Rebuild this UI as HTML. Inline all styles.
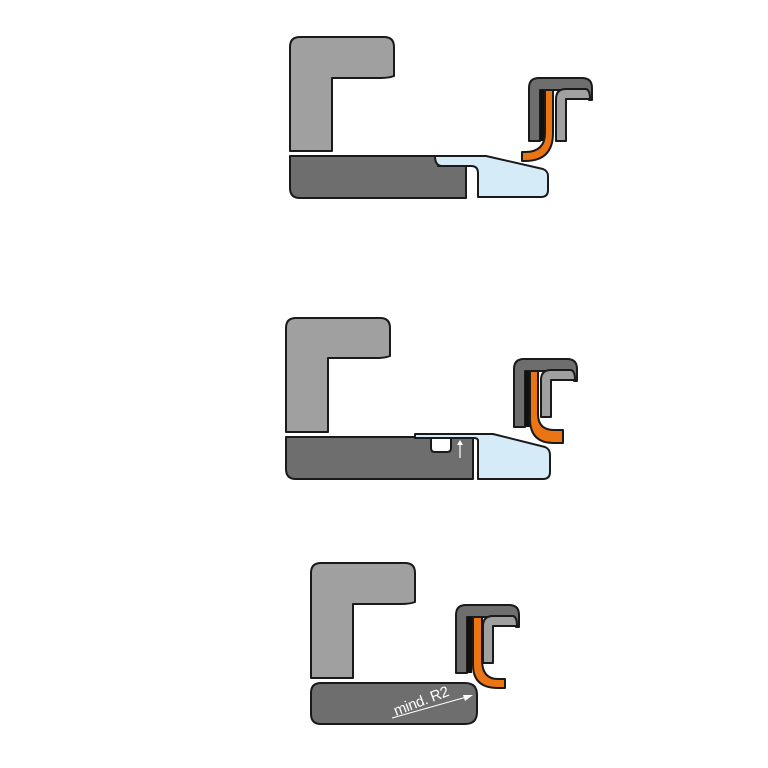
<!DOCTYPE html>
<html><head><meta charset="utf-8"><style>html,body{margin:0;padding:0;background:#fff}svg{display:block}</style></head>
<body>
<svg width="768" height="768" viewBox="0 0 768 768" xmlns="http://www.w3.org/2000/svg" stroke="#1a1a1a" stroke-width="2" stroke-linejoin="round">
<defs>
  <g id="capL">
    <path d="M0,63 V10 Q0,0 10,0 H53 Q63,0 63,10 V22 H60 Q59,13 50,12 H11 V63 Z" fill="#6e6e6e"/>
    <rect x="11" y="12" width="5" height="51" fill="#111" stroke="none"/>
    <path d="M27,63 V21 Q27,11 37,11 H57 Q61,12 61,21 H37 V63 Z" fill="#a0a0a0"/>
  </g>
  <g id="capR">
    <path d="M0,68 V10 Q0,0 10,0 H53 Q63,0 63,10 V22 H60 Q59,13 50,12 H11 V68 Z" fill="#6e6e6e"/>
    <rect x="11" y="12" width="5" height="56" fill="#111" stroke="none"/>
    <path d="M27,58 V21 Q27,11 37,11 H57 Q61,12 61,21 H37 V58 Z" fill="#a0a0a0"/>
  </g>
</defs>

<!-- Diagram 1 -->
<path d="M290,151 V47 Q290,37 300,37 H384 Q394,37 394,47 V76 Q389,78 380,78 H332 V151 Z" fill="#a0a0a0"/>
<path d="M466,198 H300 Q290,198 290,188 V156 H438 V166 H466 Z" fill="#6e6e6e"/>
<path d="M435,156 H486 L543,169 Q548,171 548,176 V190 Q548,197 541,197 H478 V173 Q478,166 471,166 H441 Q435,165 435,156 Z" fill="#d6ebf8"/>
<g transform="translate(529,78)">
  <use href="#capL"/>
  <path d="M16,12 H24 V55 Q24,83 -4,83 H-7 V74 H-4 Q16,74 16,55 Z" fill="#ec7513"/>
</g>

<!-- Diagram 2 -->
<path d="M286,432 V328 Q286,318 296,318 H380 Q390,318 390,328 V356 Q385,358 376,358 H328 V432 Z" fill="#a0a0a0"/>
<path d="M473,479 H296 Q286,479 286,469 V437 H473 Z" fill="#6e6e6e"/>
<path d="M431,438 H451 V448 Q451,452 447,452 H435 Q431,452 431,448 Z" fill="#fff"/>
<line x1="460" y1="458" x2="460" y2="442" stroke="#fff" stroke-width="1.2"/>
<path d="M457,445 L460,440 L463,445 Z" fill="#fff" stroke="none"/>
<path d="M415,434 H493 L545,447 Q550,449 550,455 V472 Q550,479 543,479 H478 V441 Q478,438 474,438 H415 Z" fill="#d6ebf8"/>
<g transform="translate(514,359)">
  <use href="#capR"/>
  <path d="M16,12 H24 V55 Q24,71 40,71 H49 V84 H40 Q16,84 16,60 Z" fill="#ec7513"/>
</g>

<!-- Diagram 3 -->
<path d="M311,678 V573 Q311,563 321,563 H405 Q415,563 415,573 V602 Q410,604 401,604 H353 V678 Z" fill="#a0a0a0"/>
<path d="M321,683 H465 Q477,683 477,695 V712 Q477,724 465,724 H321 Q311,724 311,714 V693 Q311,683 321,683 Z" fill="#6e6e6e"/>
<line x1="392" y1="718" x2="470" y2="696" stroke="#fff" stroke-width="1"/>
<path d="M473,695 L463,695 L465,701 Z" fill="#fff" stroke="none"/>
<text x="0" y="0" transform="translate(396,716) rotate(-21)" font-family="Liberation Sans, sans-serif" font-size="15" fill="#fff" stroke="none" textLength="58">mind.  R2</text>
<g transform="translate(456,605)">
  <use href="#capR"/>
  <path d="M17,12 H26 V55 Q26,74 42,74 H49 V83 H42 Q17,83 17,60 Z" fill="#ec7513"/>
</g>
</svg>
</body></html>
